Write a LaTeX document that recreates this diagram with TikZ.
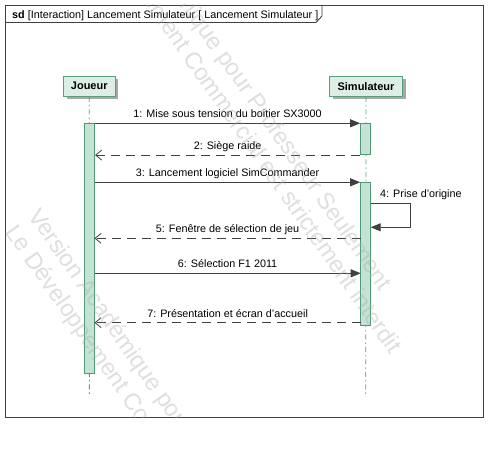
\documentclass[tikz,border=0pt]{standalone}
\usepackage{fontspec}
\setmainfont{Liberation Sans}
\usetikzlibrary{arrows.meta,shadows}
\definecolor{frameline}{HTML}{404040}
\definecolor{headfill}{HTML}{DDEFE5}
\definecolor{headline}{HTML}{5A9E7E}
\definecolor{actfill}{HTML}{C3E3D3}
\definecolor{actline}{HTML}{4E9A78}
\definecolor{msgline}{HTML}{404040}
\definecolor{wmark}{HTML}{A8A8A8}
\definecolor{shadowc}{HTML}{A8A8A8}
\begin{document}
\begin{tikzpicture}[x=1pt,y=-1pt,
  lbl/.style={font=\fontsize{10.8}{12}\selectfont, inner sep=0pt, anchor=base},
  head/.style={draw=headline, fill=headfill, line width=0.9pt, minimum height=20.5pt,
    font=\fontsize{11}{13}\selectfont\bfseries, inner sep=0pt,
    drop shadow={shadow xshift=3pt, shadow yshift=-3pt, fill=shadowc, opacity=1}},
  act/.style={draw=actline, fill=actfill, line width=1.1pt, minimum width=10pt, inner sep=0pt, anchor=north},
  lifeline/.style={draw=headline, line width=0.8pt, dash pattern=on 5pt off 3pt on 1.5pt off 3pt},
  sync/.style={draw=msgline, line width=0.8pt, -{Triangle[length=10pt,width=8pt]}},
  reply/.style={draw=msgline, line width=0.8pt, dash pattern=on 9pt off 6pt, -{Straight Barb[length=6pt,width=10pt]}},
  wm/.style={text=wmark, opacity=0.36, font=\fontsize{23.5}{28}\selectfont, align=left, inner sep=0pt, anchor=north west, rotate=-55},
]
\useasboundingbox (0,0) rectangle (498,457);
\fill[white] (0,0) rectangle (498,457);

% frame
\coordinate (fTL) at (5,5);
\coordinate (fBR) at (483,417);
\draw[frameline, line width=0.9pt] (fTL) rectangle (fBR);
\draw[frameline, line width=0.9pt] (5,22.5) -- (316,22.5) -- (322,16) -- (322,5);
\node[anchor=base west, inner sep=0pt, font=\fontsize{10.8}{12}\selectfont] (title) at (12,18.3)
  {\textbf{sd} [Interaction] Lancement Simulateur [ Lancement Simulateur ]};

% heads
\node[head, minimum width=51.5pt] (joueur) at (89.25,86.25) {Joueur};
\node[head, minimum width=73pt] (simu) at (366,86.25) {Simulateur};

% lifelines
\coordinate (jend) at (89.4,397);
\coordinate (send) at (365.7,397);
\draw[lifeline] (joueur.south) -- (jend);
\draw[lifeline] (simu.south) -- (send);

% activations
\node[act, minimum height=250pt] (actJ) at (89.5,123.3) {};
\node[act, minimum height=30.7pt] (actS1) at (365.7,123.3) {};
\node[act, minimum height=142.7pt] (actS2) at (365.7,182.3) {};

% messages
\draw[sync] (actJ.north east) -- (actS1.north west)
  node[lbl, midway, yshift=5.5pt] {1: Mise sous tension du boitier SX3000};
\draw[reply] (actS1.south west) -- (actJ.east |- actS1.south)
  node[lbl, midway, yshift=5.5pt] {2: Siège raide};
\draw[sync] (actJ.east |- actS2.north) -- (actS2.north west)
  node[lbl, midway, yshift=5.5pt] {3: Lancement logiciel SimCommander};

\coordinate (s4a) at (370.7,203.3);
\coordinate (s4b) at (410.7,203.3);
\coordinate (s4c) at (410.7,227.3);
\coordinate (s4d) at (370.7,227.3);
\draw[sync] (s4a) -- (s4b) -- (s4c) -- (s4d);
\node[lbl, anchor=base west] (l4) at (380,197.3) {4: Prise d'origine};

\coordinate (m5s) at (360.7,238.3);
\coordinate (m5e) at (94.5,238.3);
\draw[reply] (m5s) -- (m5e) node[lbl, midway, yshift=5.5pt] {5: Fenêtre de sélection de jeu};

\coordinate (m6s) at (94.5,273.3);
\coordinate (m6e) at (360.7,273.3);
\draw[sync] (m6s) -- (m6e) node[lbl, midway, yshift=5.5pt] {6: Sélection F1 2011};

\coordinate (m7s) at (360.7,322.7);
\coordinate (m7e) at (94.5,322.7);
\draw[reply] (m7s) -- (m7e) node[lbl, midway, yshift=5.5pt] {7: Présentation et écran d'accueil};

% watermark
\begin{scope}
\clip (fTL) rectangle (fBR);
\node[wm] (wmA) at (42,206) {Version Académique pour Professeur Seulement\\Le Développement Commercial est strictement interdit};
\node[wm] (wmB) at (103,-135) {Version Académique pour Professeur Seulement\\Le Développement Commercial est strictement interdit};
\end{scope}
\end{tikzpicture}
\end{document}
